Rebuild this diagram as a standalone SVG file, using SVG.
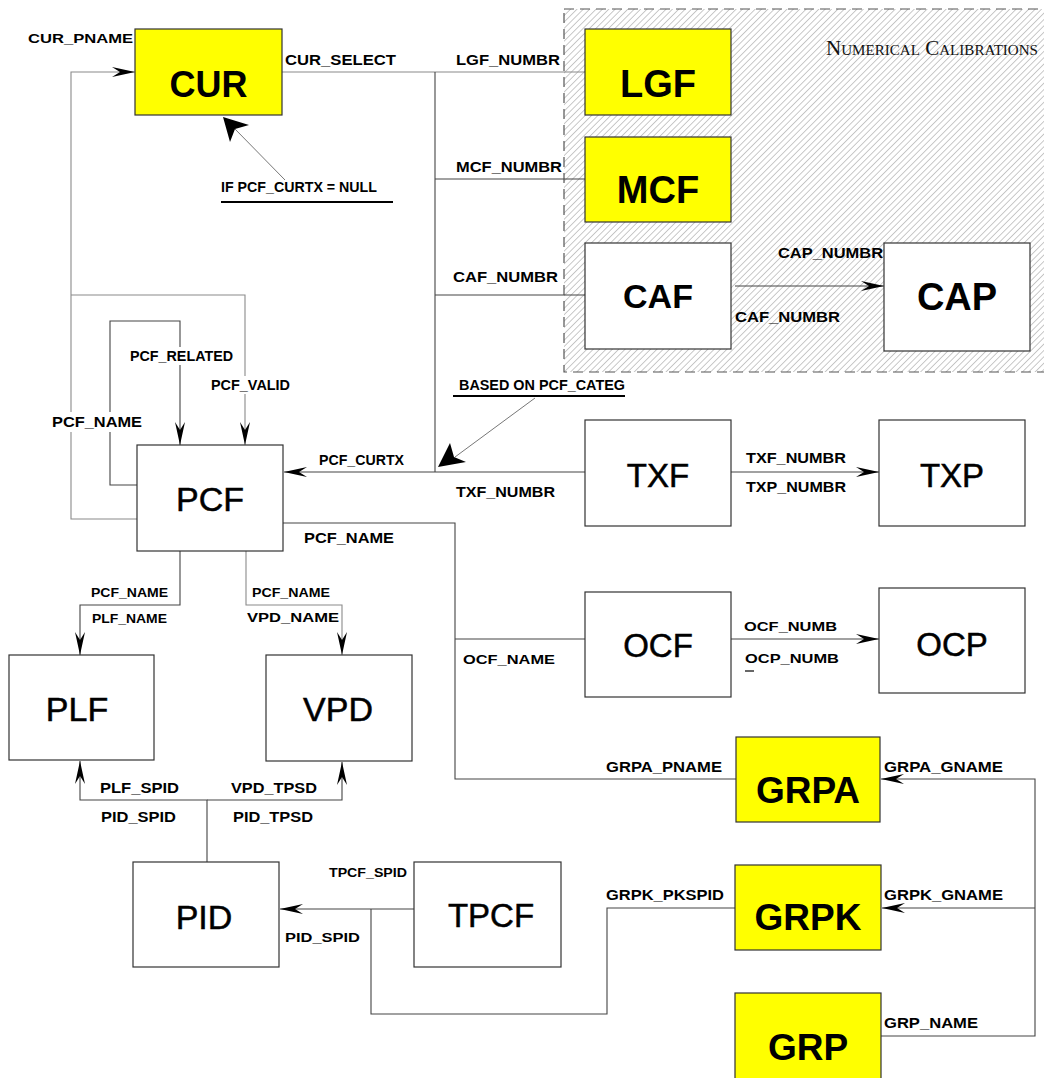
<svg xmlns="http://www.w3.org/2000/svg" width="1044" height="1078" viewBox="0 0 1044 1078">
<defs>
  <pattern id="hatch" patternUnits="userSpaceOnUse" width="4.5" height="4.5" patternTransform="rotate(45)">
    <rect width="4.5" height="4.5" fill="#ffffff"/>
    <line x1="0" y1="0" x2="0" y2="4.5" stroke="#b2b2b2" stroke-width="1.4"/>
  </pattern>
  <marker id="arr" markerUnits="userSpaceOnUse" markerWidth="26" markerHeight="14" viewBox="-24 -7 26 14" refX="0" refY="0" orient="auto">
    <path d="M0,0 L-23,-5 L-15,0 L-23,5 Z" fill="#000"/>
  </marker>
  <style>
    .box { stroke: #333; stroke-width: 1.2; fill: #ffffff; }
    .yel { fill: #ffff00; }
    .nb { font-family: "Liberation Sans", Arial, sans-serif; font-weight: bold; text-anchor: middle; fill: #000; }
    .nr { font-family: "Liberation Sans", Arial, sans-serif; font-weight: normal; text-anchor: middle; fill: #000; stroke: #000; stroke-width: 0.5; }
    .lbl { font-family: "Liberation Sans", Arial, sans-serif; font-weight: bold; fill: #000; }
    .ln { fill: none; stroke: #444; stroke-width: 1.1; }
    .lg { fill: none; stroke: #8a8a8a; stroke-width: 1.1; }
    .ul { stroke: #000; stroke-width: 2.2; }
  </style>
</defs>

<rect width="1044" height="1078" fill="#ffffff"/>

<!-- calibration area -->
<g id="calibration-area">
  <rect x="564" y="9" width="500" height="363" fill="url(#hatch)" stroke="#555" stroke-width="1.2" stroke-dasharray="10,6"/>
  <text x="826" y="55" font-family="'Liberation Serif', 'Times New Roman', serif" font-size="21" font-variant="small-caps" textLength="212" lengthAdjust="spacingAndGlyphs" fill="#111">Numerical Calibrations</text>
</g>

<!-- connectors -->
<g id="connectors">
  <path class="lg" d="M137,519 H71 V72 H135" marker-end="url(#arr)"/>
  <path class="lg" d="M71,295 H245 V445" marker-end="url(#arr)"/>
  <path class="ln" d="M137,485 H110 V321 H180 V445" marker-end="url(#arr)"/>
  <path class="lg" d="M282,72 H585"/>
  <path class="ln" d="M435,72 V472"/>
  <path class="ln" d="M435,179 H585"/>
  <path class="ln" d="M435,295 H585"/>
  <path class="ln" d="M735,286 H884" marker-end="url(#arr)"/>
  <path class="ln" d="M585,472 H284" marker-end="url(#arr)"/>
  <path class="ln" d="M731,472 H879" marker-end="url(#arr)"/>
  <path class="ln" d="M283,523 H455 V779 H736"/>
  <path class="ln" d="M455,639 H585"/>
  <path class="ln" d="M731,639 H879" marker-end="url(#arr)"/>
  <path class="ln" d="M881,1036 H1035 V779 H881" marker-end="url(#arr)"/>
  <path class="ln" d="M1035,908 H882" marker-end="url(#arr)"/>
  <path class="ln" d="M180,551 V605 H80 V655" marker-end="url(#arr)"/>
  <path class="lg" d="M246,551 V605 H342 V655" marker-end="url(#arr)"/>
  <path class="ln" d="M207,862 V800 H80 V761" marker-end="url(#arr)"/>
  <path class="ln" d="M207,800 H342 V762" marker-end="url(#arr)"/>
  <path class="ln" d="M414,909 H280" marker-end="url(#arr)"/>
  <path class="ln" d="M735,908 H607 V1014 H371 V909"/>
  <!-- annotation leaders -->
  <path d="M285,180 L234,128" stroke="#777" stroke-width="1" fill="none"/>
  <polygon points="223,117 249,125 235,129 230,142" fill="#000"/>
  <path d="M535,398 L455,457" stroke="#777" stroke-width="1" fill="none"/>
  <polygon points="438,467 450,443 454,457 466,462" fill="#000"/>
</g>

<!-- nodes -->
<g id="node-CUR"><rect class="box yel" x="135" y="29" width="147" height="86"/><text class="nb" x="208.5" y="97" font-size="36">CUR</text></g>
<g id="node-LGF"><rect class="box yel" x="585" y="29" width="146" height="86"/><text class="nb" x="658" y="97" font-size="38">LGF</text></g>
<g id="node-MCF"><rect class="box yel" x="585" y="137" width="146" height="85"/><text class="nb" x="658" y="203" font-size="38">MCF</text></g>
<g id="node-CAF"><rect class="box" x="585" y="243" width="146" height="106"/><text class="nb" x="658" y="308" font-size="34">CAF</text></g>
<g id="node-CAP"><rect class="box" x="884" y="243" width="146" height="108"/><text class="nb" x="957" y="310" font-size="38">CAP</text></g>
<g id="node-PCF"><rect class="box" x="137" y="445" width="146" height="106"/><text class="nr" x="210" y="511" font-size="34">PCF</text></g>
<g id="node-TXF"><rect class="box" x="585" y="420" width="146" height="106"/><text class="nr" x="658" y="487" font-size="33">TXF</text></g>
<g id="node-TXP"><rect class="box" x="879" y="420" width="146" height="106"/><text class="nr" x="952" y="487" font-size="33">TXP</text></g>
<g id="node-OCF"><rect class="box" x="585" y="592" width="146" height="105"/><text class="nr" x="658" y="657" font-size="33">OCF</text></g>
<g id="node-OCP"><rect class="box" x="879" y="588" width="146" height="105"/><text class="nr" x="952" y="656" font-size="33">OCP</text></g>
<g id="node-PLF"><rect class="box" x="9" y="655" width="145" height="105"/><text class="nr" x="77" y="721" font-size="34">PLF</text></g>
<g id="node-VPD"><rect class="box" x="266" y="655" width="146" height="106"/><text class="nr" x="338" y="721" font-size="34">VPD</text></g>
<g id="node-PID"><rect class="box" x="133" y="862" width="146" height="105"/><text class="nr" x="204" y="929" font-size="34">PID</text></g>
<g id="node-TPCF"><rect class="box" x="414" y="862" width="147" height="105"/><text class="nr" x="491" y="927" font-size="33">TPCF</text></g>
<g id="node-GRPA"><rect class="box yel" x="736" y="737" width="144" height="85"/><text class="nb" x="808" y="803" font-size="37">GRPA</text></g>
<g id="node-GRPK"><rect class="box yel" x="735" y="865" width="146" height="85"/><text class="nb" x="808" y="930" font-size="37">GRPK</text></g>
<g id="node-GRP"><rect class="box yel" x="735" y="993" width="146" height="95"/><text class="nb" x="808" y="1060" font-size="37">GRP</text></g>

<!-- labels -->
<g id="labels">
  <rect x="128" y="347" width="108" height="18" fill="#fff"/>
  <rect x="209" y="376" width="84" height="18" fill="#fff"/>
  <rect x="50" y="412" width="95" height="20" fill="#fff"/>
  <text class="lbl" x="28" y="43" font-size="13" textLength="105" lengthAdjust="spacingAndGlyphs">CUR_PNAME</text>
  <text class="lbl" x="285" y="65" font-size="14" textLength="111" lengthAdjust="spacingAndGlyphs">CUR_SELECT</text>
  <text class="lbl" x="221" y="192" font-size="14" textLength="156" lengthAdjust="spacingAndGlyphs">IF PCF_CURTX = NULL</text>
  <line class="ul" x1="221" y1="202" x2="393" y2="202"/>
  <text class="lbl" x="456" y="65" font-size="14" textLength="104" lengthAdjust="spacingAndGlyphs">LGF_NUMBR</text>
  <text class="lbl" x="456" y="172" font-size="14" textLength="106" lengthAdjust="spacingAndGlyphs">MCF_NUMBR</text>
  <text class="lbl" x="453" y="282" font-size="14" textLength="105" lengthAdjust="spacingAndGlyphs">CAF_NUMBR</text>
  <text class="lbl" x="778" y="258" font-size="15" textLength="105" lengthAdjust="spacingAndGlyphs">CAP_NUMBR</text>
  <text class="lbl" x="735" y="322" font-size="15" textLength="105" lengthAdjust="spacingAndGlyphs">CAF_NUMBR</text>
  <text class="lbl" x="130" y="361" font-size="14" textLength="103" lengthAdjust="spacingAndGlyphs">PCF_RELATED</text>
  <text class="lbl" x="211" y="390" font-size="14" textLength="79" lengthAdjust="spacingAndGlyphs">PCF_VALID</text>
  <text class="lbl" x="52" y="427" font-size="15" textLength="90" lengthAdjust="spacingAndGlyphs">PCF_NAME</text>
  <text class="lbl" x="319" y="465" font-size="14" textLength="85" lengthAdjust="spacingAndGlyphs">PCF_CURTX</text>
  <text class="lbl" x="459" y="390" font-size="14" textLength="166" lengthAdjust="spacingAndGlyphs">BASED ON PCF_CATEG</text>
  <line class="ul" x1="453" y1="396" x2="625" y2="396"/>
  <text class="lbl" x="456" y="497" font-size="14" textLength="99" lengthAdjust="spacingAndGlyphs">TXF_NUMBR</text>
  <text class="lbl" x="746" y="463" font-size="14" textLength="100" lengthAdjust="spacingAndGlyphs">TXF_NUMBR</text>
  <text class="lbl" x="746" y="492" font-size="14" textLength="100" lengthAdjust="spacingAndGlyphs">TXP_NUMBR</text>
  <text class="lbl" x="304" y="543" font-size="15" textLength="90" lengthAdjust="spacingAndGlyphs">PCF_NAME</text>
  <text class="lbl" x="91" y="597" font-size="13" textLength="77" lengthAdjust="spacingAndGlyphs">PCF_NAME</text>
  <text class="lbl" x="92" y="623" font-size="13" textLength="75" lengthAdjust="spacingAndGlyphs">PLF_NAME</text>
  <text class="lbl" x="252" y="597" font-size="13" textLength="78" lengthAdjust="spacingAndGlyphs">PCF_NAME</text>
  <text class="lbl" x="247" y="622" font-size="13" textLength="92" lengthAdjust="spacingAndGlyphs">VPD_NAME</text>
  <text class="lbl" x="100" y="793" font-size="14" textLength="79" lengthAdjust="spacingAndGlyphs">PLF_SPID</text>
  <text class="lbl" x="101" y="822" font-size="14" textLength="75" lengthAdjust="spacingAndGlyphs">PID_SPID</text>
  <text class="lbl" x="231" y="793" font-size="14" textLength="86" lengthAdjust="spacingAndGlyphs">VPD_TPSD</text>
  <text class="lbl" x="233" y="822" font-size="14" textLength="80" lengthAdjust="spacingAndGlyphs">PID_TPSD</text>
  <text class="lbl" x="463" y="664" font-size="13" textLength="92" lengthAdjust="spacingAndGlyphs">OCF_NAME</text>
  <text class="lbl" x="744" y="631" font-size="13" textLength="93" lengthAdjust="spacingAndGlyphs">OCF_NUMB</text>
  <text class="lbl" x="745" y="663" font-size="13" textLength="94" lengthAdjust="spacingAndGlyphs">OCP_NUMB</text>
  <line x1="745" y1="671" x2="754" y2="671" stroke="#000" stroke-width="1.2"/>
  <text class="lbl" x="606" y="772" font-size="14" textLength="116" lengthAdjust="spacingAndGlyphs">GRPA_PNAME</text>
  <text class="lbl" x="884" y="772" font-size="14" textLength="119" lengthAdjust="spacingAndGlyphs">GRPA_GNAME</text>
  <text class="lbl" x="606" y="900" font-size="14" textLength="118" lengthAdjust="spacingAndGlyphs">GRPK_PKSPID</text>
  <text class="lbl" x="884" y="900" font-size="14" textLength="119" lengthAdjust="spacingAndGlyphs">GRPK_GNAME</text>
  <text class="lbl" x="884" y="1028" font-size="14" textLength="94" lengthAdjust="spacingAndGlyphs">GRP_NAME</text>
  <text class="lbl" x="329" y="877" font-size="12" textLength="78" lengthAdjust="spacingAndGlyphs">TPCF_SPID</text>
  <text class="lbl" x="285" y="942" font-size="13" textLength="75" lengthAdjust="spacingAndGlyphs">PID_SPID</text>
</g>
</svg>
